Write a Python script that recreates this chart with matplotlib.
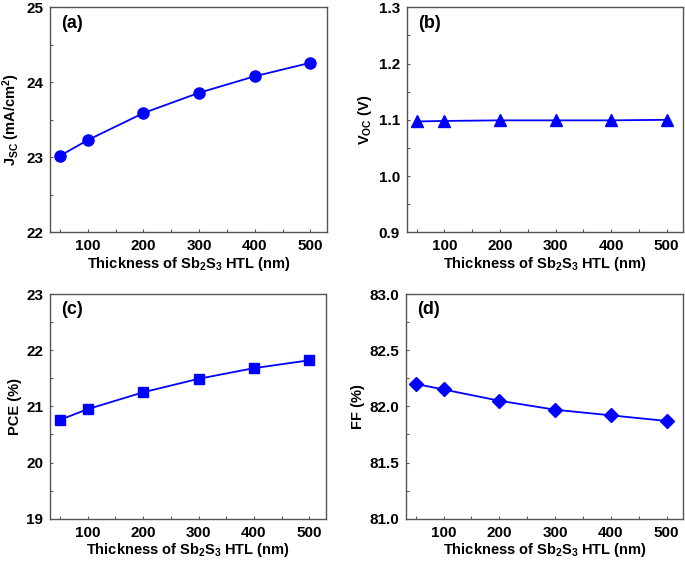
import numpy as np
import matplotlib
matplotlib.use("Agg")
import matplotlib.pyplot as plt
from matplotlib.ticker import MultipleLocator, FixedLocator

plt.rcParams['font.family'] = ['Liberation Sans', 'DejaVu Sans']
plt.rcParams['font.weight'] = 'bold'
plt.rcParams['mathtext.fontset'] = 'custom'
plt.rcParams['mathtext.default'] = 'bf'
plt.rcParams['mathtext.bf'] = 'Liberation Sans:bold'
plt.rcParams['mathtext.rm'] = 'Liberation Sans:bold'

# Data
thickness = [50, 100, 200, 300, 400, 500]
jsc = [23.02, 23.23, 23.59, 23.86, 24.08, 24.26]
voc = [1.097, 1.098, 1.099, 1.099, 1.099, 1.100]
pce = [20.76, 20.95, 21.25, 21.49, 21.68, 21.82]
ff = [82.20, 82.15, 82.05, 81.97, 81.92, 81.87]

panel_labels = ['(a)', '(b)', '(c)', '(d)']
y_labels = [r'J$_{\rm SC}$ (mA/cm$^{2}$)', r'V$_{\rm OC}$ (V)', 'PCE (%)', 'FF (%)']
x_label = r'Thickness of Sb$_{2}$S$_{3}$ HTL (nm)'

series = [jsc, voc, pce, ff]
markers = ['o', '^', 's', 'D']
msizes = [8, 8, 7.5, 7.5]
ylims = [(22, 25), (0.9, 1.3), (19, 23), (81.0, 83.0)]
ymajor = [1, 0.1, 1, 0.5]
yfmt = ['{:.0f}', '{:.1f}', '{:.0f}', '{:.1f}']

fig = plt.figure(figsize=(6.85, 5.62), dpi=100)
positions = [
    [50 / 685, 1 - 232.3 / 562, 277 / 685, 225 / 562],
    [406.7 / 685, 1 - 232.3 / 562, 276.6 / 685, 225 / 562],
    [50 / 685, 1 - 518.7 / 562, 276 / 685, 224.7 / 562],
    [405.7 / 685, 1 - 518.7 / 562, 277.6 / 685, 224.7 / 562],
]

spine_color = '#555555'

for i in range(4):
    ax = fig.add_axes(positions[i])
    ax.plot(thickness, series[i], color='#0000ff', lw=1.3,
            marker=markers[i], ms=msizes[i], mfc='#0000ff', mec='#0000ff')
    ax.set_xlim(32, 530)
    ax.set_ylim(*ylims[i])
    ax.xaxis.set_major_locator(FixedLocator([100, 200, 300, 400, 500]))
    ax.xaxis.set_minor_locator(FixedLocator([50, 150, 250, 350, 450]))
    ax.yaxis.set_major_locator(MultipleLocator(ymajor[i]))
    ax.yaxis.set_minor_locator(MultipleLocator(ymajor[i] / 2))
    ax.set_yticklabels([yfmt[i].format(v) for v in ax.get_yticks()])
    ax.tick_params(which='both', direction='in', length=2.5, width=0.8,
                   color=spine_color, labelsize=11, pad=5)
    for lab in ax.get_xticklabels() + ax.get_yticklabels():
        lab.set_fontweight('bold')
    for sp in ax.spines.values():
        sp.set_color(spine_color)
        sp.set_linewidth(1.0)
    ax.set_xlabel(x_label, fontsize=10.5, fontweight='bold', labelpad=1)
    ax.set_ylabel(y_labels[i], fontsize=10.5, fontweight='bold', labelpad=3)
    ax.text(0.04, 0.93, panel_labels[i], transform=ax.transAxes,
            fontsize=13, fontweight='bold', va='center', ha='left')

fig.savefig('out.png', dpi=100)
